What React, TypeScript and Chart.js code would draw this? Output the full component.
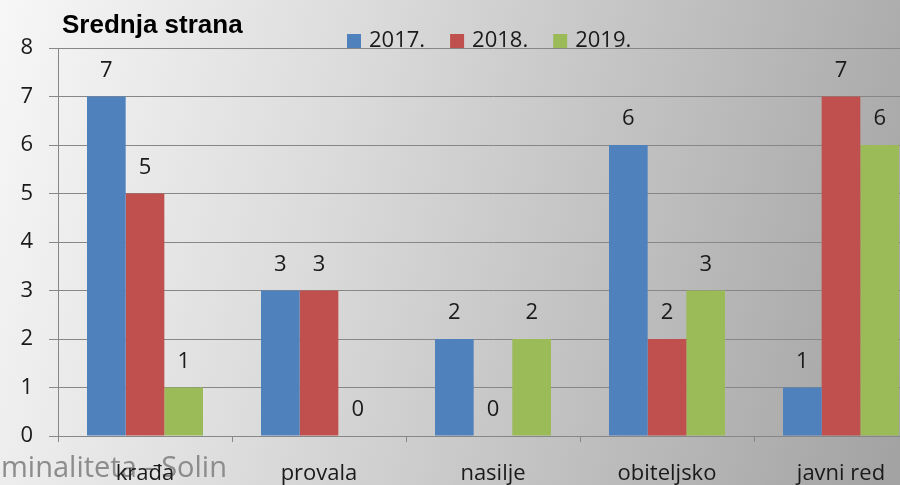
import React, { useEffect, useRef } from "react";
import { Chart, registerables } from "chart.js";

Chart.register(...registerables);

const categories = ["krađa", "provala", "nasilje", "obiteljsko", "javni red"];
const values2017 = [7, 3, 2, 6, 1];
const values2018 = [5, 3, 0, 2, 7];
const values2019 = [1, 0, 2, 3, 6];
const seriesNames = ["2017.", "2018.", "2019."];
const seriesColors = ["#4F81BD", "#C0504D", "#9BBB59"];
const yMin = 0;
const yMax = 8;
const yStep = 1;
const titleText = "Srednja strana";
const watermarkText = "minaliteta - Solin";

const FONT = "'Open Sans', 'Noto Sans', sans-serif";
const TEXT = "#1a1a1a";
const GRID = "#878787";

const overlayPlugin = {
  id: "overlay",
  beforeDraw(chart: any) {
    const ctx = chart.ctx;
    ctx.save();
    ctx.font = `29px ${FONT}`;
    ctx.fillStyle = "#8c8c8c";
    ctx.textAlign = "left";
    ctx.textBaseline = "alphabetic";
    ctx.fillText(watermarkText, 1, 477);
    ctx.restore();
  },
  afterDatasetsDraw(chart: any) {
    const ctx = chart.ctx;
    ctx.save();
    ctx.font = `22px ${FONT}`;
    ctx.fillStyle = TEXT;
    ctx.textAlign = "center";
    ctx.textBaseline = "middle";
    chart.data.datasets.forEach((ds: any, i: number) => {
      const meta = chart.getDatasetMeta(i);
      meta.data.forEach((el: any, j: number) => {
        ctx.fillText(String(ds.data[j]), el.x, el.y - 26);
      });
    });
    ctx.restore();
  },
  afterDraw(chart: any) {
    const ctx = chart.ctx;
    ctx.save();
    ctx.font = `bold 26px 'Liberation Sans', Arial, sans-serif`;
    ctx.fillStyle = "#000";
    ctx.textAlign = "left";
    ctx.textBaseline = "alphabetic";
    ctx.fillText(titleText, 62, 33);
    ctx.font = `22px ${FONT}`;
    ctx.textBaseline = "middle";
    let x = 347;
    const cy = 41;
    seriesNames.forEach((name, i) => {
      ctx.fillStyle = seriesColors[i];
      ctx.fillRect(x, cy - 7, 14, 14);
      ctx.fillStyle = TEXT;
      ctx.fillText(name, x + 22, cy);
      x += 22 + ctx.measureText(name).width + 25;
    });
    ctx.restore();
  },
};

export default function App() {
  const canvasRef = useRef<HTMLCanvasElement | null>(null);

  useEffect(() => {
    if (!canvasRef.current) return;
    const chart = new Chart(canvasRef.current, {
      type: "bar",
      data: {
        labels: categories,
        datasets: [values2017, values2018, values2019].map((d, i) => ({
          label: seriesNames[i],
          data: d,
          backgroundColor: seriesColors[i],
          borderWidth: 0,
          categoryPercentage: 2 / 3,
          barPercentage: 1,
        })),
      },
      options: {
        animation: false,
        responsive: false,
        devicePixelRatio: 1,
        layout: { padding: { left: 0, top: 48, right: 0, bottom: 0 } },
        plugins: {
          legend: { display: false },
          title: { display: false },
          tooltip: { enabled: false },
        },
        scales: {
          x: {
            offset: true,
            afterFit: (s: any) => {
              s.height = 49;
            },
            grid: {
              drawOnChartArea: false,
              drawTicks: true,
              tickLength: 6,
              color: GRID,
              offset: true,
            },
            border: { display: true, color: GRID, width: 1 },
            ticks: {
              font: { family: FONT, size: 22 },
              color: TEXT,
              padding: 19,
              maxRotation: 0,
            },
          },
          y: {
            min: yMin,
            max: yMax,
            afterFit: (s: any) => {
              s.width = 58;
            },
            grid: { color: GRID, lineWidth: 1, tickLength: 9 },
            border: { display: true, color: GRID, width: 1 },
            ticks: {
              stepSize: yStep,
              font: { family: FONT, size: 22 },
              color: TEXT,
              padding: 16,
            },
          },
        },
      },
      plugins: [overlayPlugin],
    });
    return () => chart.destroy();
  }, []);

  return (
    <div
      style={{
        position: "fixed",
        left: 0,
        top: 0,
        width: 900,
        height: 485,
        overflow: "hidden",
        background:
          "linear-gradient(105deg, #f7f7f7 0%, #dcdcdc 35%, #bdbdbd 70%, #a2a2a2 100%)",
      }}
    >
      <canvas
        ref={canvasRef}
        width={928}
        height={485}
        style={{ display: "block", width: 928, height: 485 }}
      />
    </div>
  );
}
